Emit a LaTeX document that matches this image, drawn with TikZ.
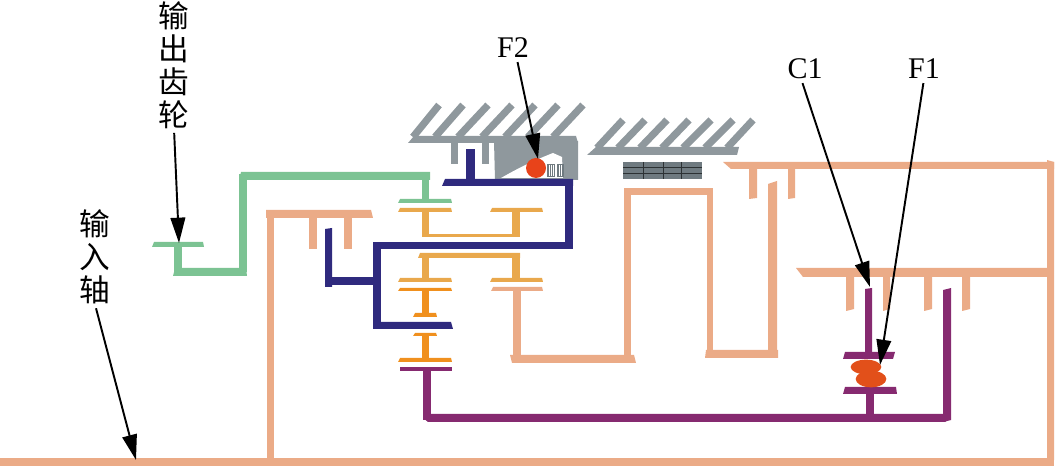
\documentclass[tikz,border=0pt]{standalone}
\usepackage{fontspec}
\setmainfont{Liberation Serif}
\newfontfamily\cjkf{Noto Sans CJK SC}
\usetikzlibrary{arrows.meta,shapes.geometric}
\definecolor{peach}{HTML}{EBAB87}
\definecolor{gearg}{HTML}{7CC393}
\definecolor{navyb}{HTML}{2F2A7E}
\definecolor{plum}{HTML}{862A70}
\definecolor{lorange}{HTML}{E9A84C}
\definecolor{dorange}{HTML}{F0901E}
\definecolor{housing}{HTML}{8F989D}
\definecolor{clutchg}{HTML}{6F7A80}
\definecolor{redb}{HTML}{E8431A}
\definecolor{rollb}{HTML}{E2501A}
\newcommand{\bx}[5]{\fill[#1] (#2,#3) rectangle (#4,#5);}
\newcommand{\tz}[5]{\fill[#1] ({#2+2},#3) -- ({#4-1},#3) -- (#4,#5) -- (#2,#5) -- cycle;}
\tikzset{
  x=0.75pt,y=-0.75pt,
  tooth/.style={draw=housing,line width=5.4pt},
  lab/.style={font=\fontsize{22.5pt}{24pt}\selectfont,inner sep=0pt},
  cjklab/.style={font=\fontsize{23pt}{24.75pt}\selectfont\cjkf,inner sep=0pt,align=center},
  callout/.style={draw=black,line width=1.45pt,shorten <=3pt,-{Triangle[length=19pt,width=11pt]}},
  roller/.style={fill=rollb,ellipse,inner sep=0pt},
}
\begin{document}
\begin{tikzpicture}
\useasboundingbox (0,0) rectangle (1057,466);
% ---- housing left
\foreach \a/\b in {413/439,435/463,458/488,482/512,505/535,528/558,553/583}
  \draw[tooth] (\a,137) -- (\b,105);
\fill[housing] (414,136) -- (576,136) -- (578,143) -- (408,143) -- cycle;
\bx{housing}{451}{143}{458}{164}
\bx{housing}{482}{143}{489}{164}
\fill[housing] (494,141) -- (578,141) -- (578,180) -- (495,180) -- cycle;
\fill[white] (501,178) .. controls (515,170) and (530,162) .. (553,153) -- (562,157) -- (563,178) -- cycle;
% springs
\fill[clutchg] (547,164) rectangle (555,177);
\fill[clutchg] (557,164) rectangle (564,177);
\foreach \s in {549,551,553,559,561} \draw[white,line width=0.4pt] (\s,165) -- (\s,176);
% ---- housing right
\foreach \a/\b in {597/623,618/645,640/667,662/689,683/711,705/733,727/753}
  \draw[tooth] (\a,148) -- (\b,120);
\fill[housing] (596,147) -- (739,147) -- (737,155) -- (587,155) -- cycle;
% clutch pack
\bx{clutchg}{623}{162}{702}{179}
\foreach \s in {643,663,681} \draw[black!60!clutchg,line width=0.5pt] (\s,162) -- (\s,179);
\foreach \s in {167,173} \draw[black!60!clutchg,line width=0.5pt] (623,\s) -- (702,\s);
% ---- peach members
\bx{peach}{0}{458}{1054}{466}
\fill[peach] (1047,160) -- (1054,162) -- (1054,460) -- (1047,466) -- cycle;
\bx{peach}{267}{210}{274}{460}
\fill[peach] (266,210) -- (371,210) -- (373,218) -- (266,218) -- cycle;
\bx{peach}{309}{218}{317}{249}
\bx{peach}{344}{218}{352}{249}
\tz{peach}{491}{287}{543}{291}
\bx{peach}{513}{291}{521}{358}
\fill[peach] (510,355) -- (634,355) -- (636,363) -- (512,363) -- cycle;
\bx{peach}{624}{188}{631}{360}
\bx{peach}{624}{188}{713}{195}
\bx{peach}{707}{188}{713}{352}
\fill[peach] (706,350) -- (778,350) -- (778,358) -- (705,358) -- cycle;
\fill[peach] (768,184) -- (777,181) -- (777,358) -- (768,358) -- cycle;
\fill[peach] (723,162) -- (1054,162) -- (1054,169) -- (731,169) -- cycle;
\fill[peach] (749,169) -- (757,169) -- (757,198) -- (749,199) -- cycle;
\fill[peach] (788,169) -- (795,169) -- (795,198) -- (788,199) -- cycle;
\fill[peach] (796,268) -- (1050,268) -- (1050,277) -- (803,277) -- cycle;
\foreach \a/\b in {846/854,883/890,924/932,962/970}
  \fill[peach] (\a,277) -- (\b,277) -- (\b,309) -- (\a,311) -- cycle;
% ---- green member
\tz{gearg}{152}{242}{204}{247}
\bx{gearg}{174}{247}{182}{272}
\fill[gearg] (175,268) -- (246,268) -- (247,276) -- (173,276) -- cycle;
\bx{gearg}{239}{174}{247}{272}
\fill[gearg] (241,172) -- (430,172) -- (430,180) -- (239,180) -- cycle;
\bx{gearg}{422}{180}{429}{200}
\tz{gearg}{398}{199}{452}{203}
% ---- orange members
\tz{lorange}{398}{208}{452}{212}
\tz{lorange}{490}{208}{543}{212}
\bx{lorange}{422}{212}{429}{236}
\bx{lorange}{512}{212}{520}{236}
\bx{lorange}{422}{234}{520}{237}
\fill[lorange] (420,253) -- (520,253) -- (520,258) -- (418,258) -- cycle;
\bx{lorange}{422}{258}{429}{280}
\bx{lorange}{512}{253}{520}{280}
\tz{lorange}{398}{278}{452}{282}
\tz{lorange}{490}{278}{543}{282}
\tz{dorange}{398}{288}{452}{291}
\bx{dorange}{422}{291}{429}{314}
\tz{dorange}{413}{313}{437}{317}
\tz{dorange}{413}{333}{437}{336}
\bx{dorange}{422}{336}{429}{359}
\tz{dorange}{398}{358}{452}{362}
% ---- navy member
\bx{navyb}{466}{149}{475}{180}
\fill[navyb] (445,179) -- (573,179) -- (573,186) -- (442,186) -- cycle;
\bx{navyb}{565}{180}{573}{249}
\bx{navyb}{373}{242}{573}{249}
\bx{navyb}{373}{242}{381}{329}
\fill[navyb] (373,322) -- (451,322) -- (453,329) -- (373,329) -- cycle;
\bx{navyb}{325}{277}{375}{285}
\fill[navyb] (325,229) -- (332,228) -- (332,287) -- (325,287) -- cycle;
% ---- plum member
\bx{plum}{400}{367}{452}{371}
\bx{plum}{423}{371}{431}{420}
\fill[plum] (423,414) -- (943,414) -- (951,418) -- (945,422) -- (428,422) -- (423,418) -- cycle;
\fill[plum] (943,290) -- (951,288) -- (951,420) -- (943,422) -- cycle;
\bx{plum}{866}{393}{874}{415}
\fill[plum] (845,387) -- (896,387) -- (897,394) -- (843,394) -- cycle;
\fill[plum] (845,352) -- (895,352) -- (893,359) -- (843,359) -- cycle;
\fill[plum] (865,289) -- (872,288) -- (872,352) -- (865,352) -- cycle;
% ---- rollers
\node[roller,minimum width=23pt,minimum height=11pt] (rollA) at (866,367) {};
\node[roller,minimum width=23pt,minimum height=12.5pt] (rollB) at (871,379) {};
\node[circle,fill=redb,minimum size=15pt,inner sep=0pt] (rollF) at (536,168) {};
% ---- labels and callouts
\node[lab] (lF) at (513,48) {F2};
\node[lab] (lC) at (805,69) {C1};
\node[lab] (lG) at (924,69) {F1};
\node[cjklab] (lOut) at (174,65) {输\\出\\齿\\轮};
\node[cjklab] (lIn) at (95,257) {输\\入\\轴};
\coordinate (tipOut) at (179,243);
\coordinate (tipIn) at (136,460);
\coordinate (tipC) at (870,287);
\coordinate (tipG) at (880,365);
\coordinate (tipF) at (538,159);
\draw[callout] (lF.-70) -- (tipF);
\draw[callout] (lC.-110) -- (tipC);
\draw[callout] (lG.south) -- (tipG);
\draw[callout] (lOut.south) -- (tipOut);
\draw[callout] (lIn.south) -- (tipIn);
\end{tikzpicture}
\end{document}
